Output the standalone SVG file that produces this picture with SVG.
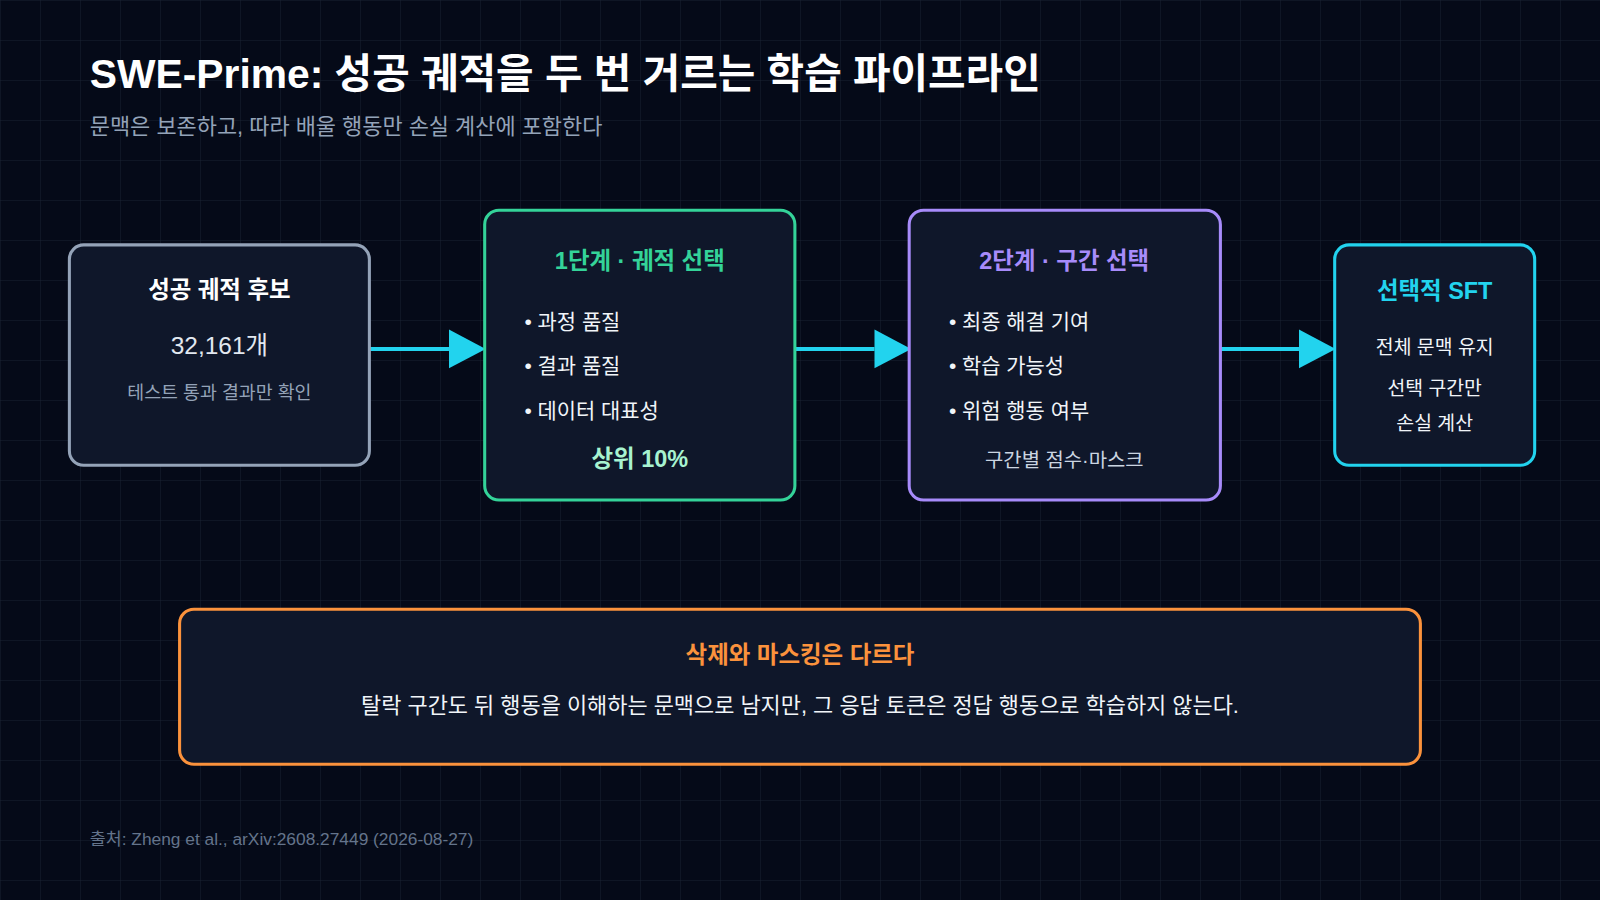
<svg xmlns="http://www.w3.org/2000/svg" width="1600" height="900" viewBox="0 0 1600 900">
<defs>
<pattern id="grid" width="40" height="40" patternUnits="userSpaceOnUse"><path d="M40 0H0V40" fill="none" stroke="#1a2232" stroke-width="1"/></pattern>
<style>
text{font-family:"Liberation Sans","Noto Sans CJK KR",sans-serif}
.box{fill:#0f172a;stroke-width:3}
.t{font-weight:700;font-size:23px;text-anchor:middle}
.b{fill:#f1f5f9;font-size:20.5px}
.c{text-anchor:middle}
.arr{stroke:#22d3ee;stroke-width:4;fill:none}
</style>
</defs>
<rect width="1600" height="900" fill="#050a18"/>
<rect width="1600" height="900" fill="url(#grid)"/>
<g transform="scale(1.0204)">
<text x="88" y="86" font-size="40" font-weight="700" fill="#ffffff">SWE-Prime: 성공 궤적을 두 번 거르는 학습 파이프라인</text>
<text x="88" y="131" font-size="21.5" fill="#94a3b8">문맥은 보존하고, 따라 배울 행동만 손실 계산에 포함한다</text>
<g id="connectors">
<line class="arr" x1="362" y1="342" x2="440" y2="342"/><path d="M440 323L476 342L440 361Z" fill="#22d3ee"/>
<line class="arr" x1="779" y1="342" x2="857" y2="342"/><path d="M857 323L893 342L857 361Z" fill="#22d3ee"/>
<line class="arr" x1="1196" y1="342" x2="1273" y2="342"/><path d="M1273 323L1309 342L1273 361Z" fill="#22d3ee"/>
</g>
<g id="node-candidates">
<rect class="box" x="68" y="240" width="294" height="216" rx="14" stroke="#94a3b8"/>
<text class="t" x="215" y="292" fill="#ffffff">성공 궤적 후보</text>
<text class="c" x="215" y="347" font-size="24" fill="#e2e8f0">32,161개</text>
<text class="c" x="215" y="391" font-size="18" fill="#94a3b8">테스트 통과 결과만 확인</text>
</g>
<g id="node-stage1">
<rect class="box" x="475" y="206" width="304" height="284" rx="14" stroke="#34d399"/>
<text class="t" x="627" y="264" fill="#34d399">1단계 · 궤적 선택</text>
<text class="b" x="514" y="322">• 과정 품질</text>
<text class="b" x="514" y="366">• 결과 품질</text>
<text class="b" x="514" y="410">• 데이터 대표성</text>
<text class="t" x="627" y="458" fill="#a7f3d0">상위 10%</text>
</g>
<g id="node-stage2">
<rect class="box" x="891" y="206" width="305" height="284" rx="14" stroke="#a78bfa"/>
<text class="t" x="1043" y="264" fill="#a78bfa">2단계 · 구간 선택</text>
<text class="b" x="930" y="322">• 최종 해결 기여</text>
<text class="b" x="930" y="366">• 학습 가능성</text>
<text class="b" x="930" y="410">• 위험 행동 여부</text>
<text class="c" x="1043" y="458" font-size="19.5" fill="#cbd5e1">구간별 점수·마스크</text>
</g>
<g id="node-sft">
<rect class="box" x="1308" y="240" width="196" height="216" rx="14" stroke="#22d3ee"/>
<text class="t" x="1406" y="293" fill="#22d3ee">선택적 SFT</text>
<text class="c" x="1406" y="347" font-size="19" fill="#f1f5f9">전체 문맥 유지</text>
<text class="c" x="1406" y="387" font-size="19" fill="#f1f5f9">선택 구간만</text>
<text class="c" x="1406" y="421" font-size="19" fill="#f1f5f9">손실 계산</text>
</g>
<g id="note">
<rect class="box" x="176" y="597" width="1216" height="152" rx="14" stroke="#fb923c"/>
<text class="t" x="784" y="650" fill="#fb923c">삭제와 마스킹은 다르다</text>
<text class="c" x="784" y="699" font-size="21.5" fill="#f1f5f9">탈락 구간도 뒤 행동을 이해하는 문맥으로 남지만, 그 응답 토큰은 정답 행동으로 학습하지 않는다.</text>
</g>
<text x="88" y="828" font-size="17" fill="#64748b">출처: Zheng et al., arXiv:2608.27449 (2026-08-27)</text>
</g>
</svg>
